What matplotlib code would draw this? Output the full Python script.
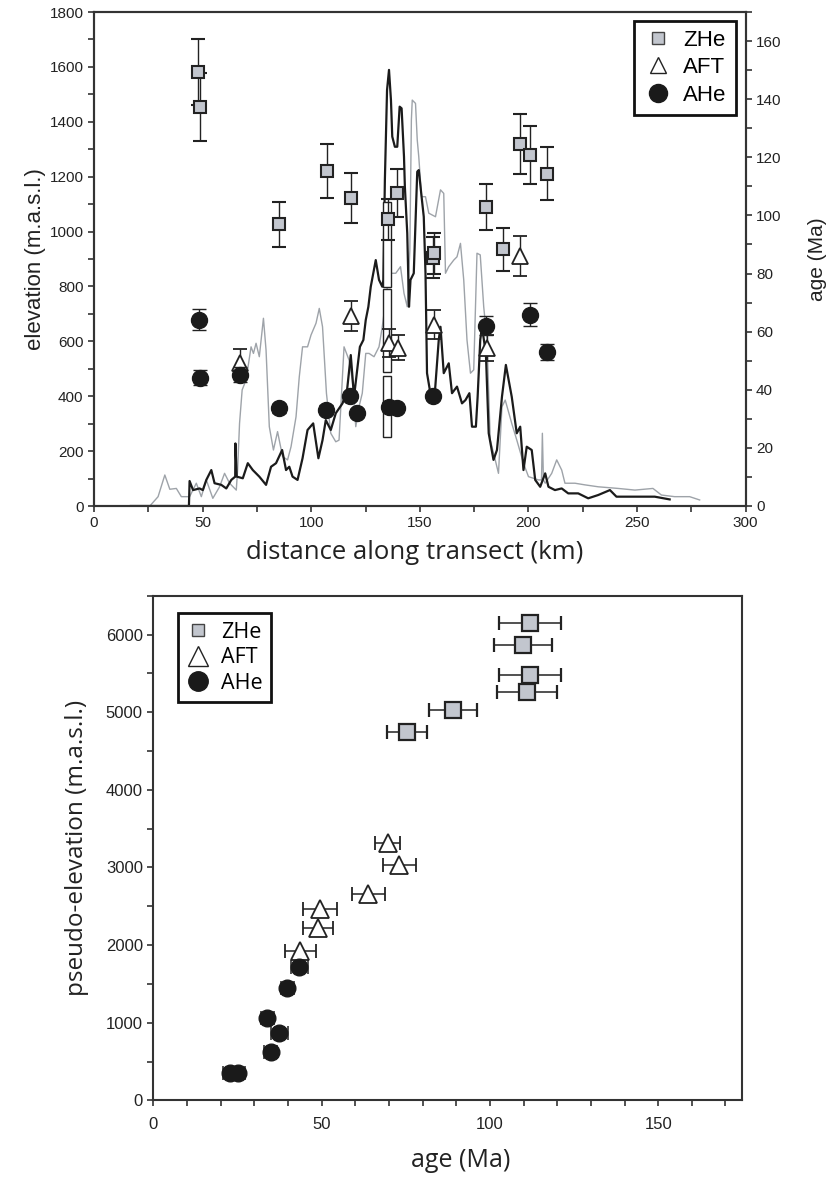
import matplotlib
matplotlib.use("Agg")
import matplotlib.pyplot as plt
import numpy as np
from matplotlib.ticker import MultipleLocator
from matplotlib.lines import Line2D

# ---------------- data: top panel ----------------
# topographic profiles (distance km, elevation m)
black_km = [17.0, 43.7, 44.0, 45.6, 48.6, 50.1, 51.7, 54.0, 55.5, 58.6, 60.9, 63.2, 65.0, 65.1, 65.7,
            68.5, 70.8, 73.1, 76.1, 79.2, 81.5, 83.8, 86.6, 88.4, 89.9, 91.4, 93.7, 96.0, 98.3,
            100.9, 103.3, 105.2, 106.7, 109.0, 111.3, 114.4, 116.5, 118.2, 119.7, 122.4, 124.0,
            125.1, 126.3, 127.4, 129.7, 131.2, 132.7, 133.2, 133.9, 134.9, 135.8, 136.7, 137.3,
            138.5, 139.6, 140.7, 141.6, 142.7, 143.1, 144.2, 145.0, 145.7, 147.2, 148.8, 149.5,
            150.8, 151.8, 152.6, 153.3, 155.0, 156.9, 158.7, 159.5, 161.0, 163.3, 164.8, 167.1,
            169.4, 171.0, 172.8, 174.0, 175.8, 176.6, 177.8, 178.6, 180.4, 181.7, 183.9, 185.5,
            187.8, 189.6, 192.3, 194.6, 196.2, 197.7, 199.2, 201.5, 203.1, 205.4, 207.7, 209.2,
            212.2, 215.3, 218.3, 222.9, 227.5, 232.1, 237.5, 240.5, 248.9, 258.1, 265.0]
black_m = [0, 0, 91, 58, 64, 58, 95, 131, 83, 77, 64, 95, 107, 228, 107,
           101, 156, 131, 107, 77, 143, 156, 204, 131, 143, 107, 95, 174, 277,
           301, 174, 240, 313, 277, 338, 374, 423, 550, 398, 580, 605,
           678, 726, 799, 896, 824, 799, 824, 1188, 1516, 1589, 1479, 1346,
           1309, 1309, 1455, 1449, 1273, 1164, 994, 726, 824, 848, 1218, 1224,
           1127, 1054, 848, 484, 404, 412, 605, 653, 484, 520, 411, 435,
           374, 386, 411, 289, 289, 398, 605, 653, 556, 265, 168, 204,
           398, 514, 398, 265, 289, 131, 216, 204, 95, 70, 119, 70,
           58, 64, 46, 46, 28, 40, 58, 34, 34, 34, 24]

gray_km = [25.7, 29.5, 32.6, 34.9, 37.9, 40.2, 44.0, 47.1, 49.4, 51.7, 54.7, 57.8, 60.1, 62.4,
           65.5, 66.1, 67.0, 68.2, 70.0, 72.3, 73.4, 74.6, 76.1, 78.0, 79.2, 80.7, 82.6, 84.5,
           86.8, 89.1, 90.7, 93.0, 94.5, 96.0, 98.3, 99.9, 102.2, 103.7, 105.2, 107.0, 109.0,
           111.3, 112.8, 115.1, 117.4, 118.9, 120.5, 122.0, 123.5, 125.1, 126.6, 128.9, 131.2,
           132.7, 134.3, 135.8, 138.9, 141.1, 142.7, 144.2, 145.4, 146.1, 146.5, 148.0, 148.8,
           149.5, 150.8, 152.6, 154.1, 157.2, 159.5, 161.0, 161.8, 163.3, 165.6, 167.1, 168.7,
           170.2, 171.7, 173.3, 174.8, 176.3, 177.8, 179.4, 180.9, 182.4, 184.7, 186.2, 187.8,
           189.3, 192.3, 194.6, 197.7, 200.0, 204.6, 206.0, 206.4, 206.9, 207.7, 210.7, 213.0,
           215.3, 216.8, 221.4, 226.0, 232.1, 241.3, 249.0, 257.3, 261.2, 267.3, 274.2, 278.8]
gray_m = [0, 34, 113, 61, 64, 34, 34, 83, 34, 95, 28, 70, 119, 83,
          58, 131, 301, 423, 459, 580, 556, 593, 544, 684, 568, 289, 204, 271,
          180, 168, 216, 325, 471, 580, 580, 623, 666, 720, 653, 411, 265,
          234, 240, 580, 532, 459, 289, 362, 411, 556, 556, 544, 580,
          653, 751, 848, 848, 872, 775, 726, 933, 1407, 1479, 1467, 1334,
          1273, 1127, 1127, 1067, 1054, 1152, 1139, 848, 872, 896, 908, 957,
          824, 605, 484, 496, 921, 915, 726, 605, 241, 168, 119, 362,
          386, 301, 241, 156, 107, 95, 95, 265, 95, 83, 119, 168,
          131, 83, 83, 77, 70, 64, 58, 64, 40, 34, 34, 22]

# open sample-elevation boxes near 135 km (bottom / top elevation, m)
box_km = [135.0, 135.0, 135.0]
box_bottom = [253, 487, 799]
box_top = [474, 790, 1109]

# thermochronology ages along the transect (km, Ma, 1-sigma Ma)
zhe_km = [47.8, 48.6, 85.3, 107.2, 118.2, 135.5, 139.3, 155.9, 156.6, 180.6, 188.2, 195.9, 200.5, 208.7]
zhe_age = [149.3, 137.3, 96.9, 115.3, 106.1, 98.6, 107.8, 85.5, 86.9, 102.9, 88.3, 124.5, 120.7, 114.4]
zhe_err = [11.4, 11.7, 7.8, 9.2, 8.6, 7.2, 8.2, 6.9, 6.9, 8.0, 7.3, 10.3, 10.0, 9.1]

aft_km = [67.0, 118.5, 135.8, 140.0, 156.4, 180.9, 196.2]
aft_age = [49.2, 65.3, 56.1, 54.4, 62.4, 54.4, 86.0]
aft_err = [5.0, 5.1, 4.9, 4.3, 4.9, 4.5, 6.9]

ahe_km = [48.2, 48.6, 67.0, 85.3, 107.0, 117.9, 121.0, 135.8, 139.6, 156.1, 180.4, 200.5, 208.7]
ahe_age = [64.1, 44.2, 45.2, 33.6, 33.1, 37.9, 32.0, 34.2, 33.7, 37.9, 62.1, 65.9, 53.0]
ahe_err = [3.7, 2.6, 2.6, 1.5, 1.5, 1.5, 1.5, 1.5, 1.5, 1.5, 3.4, 3.8, 2.9]

# ---------------- data: bottom panel (age Ma, pseudo-elevation m) ----------------
zhe2_age = [111.9, 109.9, 111.9, 110.9, 89.1, 75.3]
zhe2_elev = [6142, 5862, 5476, 5261, 5026, 4739]
zhe2_err = [9.2, 8.7, 9.2, 8.9, 7.2, 6.0]

aft2_age = [69.6, 73.1, 63.9, 49.5, 49.0, 43.6]
aft2_elev = [3310, 3030, 2653, 2460, 2223, 1927]
aft2_err = [3.7, 5.0, 4.8, 5.0, 4.5, 4.6]

ahe2_age = [43.4, 39.8, 33.9, 37.4, 34.9, 22.8, 25.2]
ahe2_elev = [1721, 1443, 1065, 872, 627, 349, 349]
ahe2_err = [2.5, 2.0, 2.0, 2.5, 2.0, 2.0, 2.0]

legend_labels = ["ZHe", "AFT", "AHe"]

# ---------------- styling ----------------
HELV = ["Liberation Sans", "DejaVu Sans"]
MYR = ["Open Sans", "DejaVu Sans"]
SQ_FACE = "#c2c6ce"
EDGE = "#222222"
SPINE = "#333333"
TXT = "#222222"

fig = plt.figure(figsize=(8.33, 11.77), dpi=100)

# ===== top panel =====
ax = fig.add_axes([94 / 833, 1 - 506 / 1177, 651.7 / 833, 494 / 1177])
ax.plot(gray_km, gray_m, color="#9ea3a9", lw=1.0, zorder=2)
ax.plot(black_km, black_m, color="#1b1b1b", lw=1.6, zorder=3)
ax.bar(box_km, np.array(box_top) - np.array(box_bottom), bottom=box_bottom, width=3.7,
       color="white", edgecolor=EDGE, lw=1.0, zorder=4)
ax.set_xlim(0, 300)
ax.set_ylim(0, 1800)
ax.xaxis.set_major_locator(MultipleLocator(50))
ax.xaxis.set_minor_locator(MultipleLocator(25))
ax.yaxis.set_major_locator(MultipleLocator(200))
ax.yaxis.set_minor_locator(MultipleLocator(100))

ax2 = ax.twinx()
ax2.set_ylim(0, 170)
ax2.yaxis.set_major_locator(MultipleLocator(20))
ax2.yaxis.set_minor_locator(MultipleLocator(10))

ekw = dict(ecolor="#222222", elinewidth=1.0, capthick=1.0, linestyle="none")
ax2.errorbar(zhe_km, zhe_age, yerr=zhe_err, fmt="s", ms=9, mfc=SQ_FACE, mec=EDGE, mew=1.5,
             capsize=5, zorder=5, **ekw)
ax2.errorbar(aft_km, aft_age, yerr=aft_err, fmt="^", ms=12, mfc="white", mec=EDGE, mew=1.3,
             capsize=5, zorder=6, **ekw)
ax2.errorbar(ahe_km, ahe_age, yerr=ahe_err, fmt="o", ms=11.5, mfc="#1a1a1a", mec="#1a1a1a",
             capsize=5, zorder=7, **ekw)

for a in (ax, ax2):
    for s in a.spines.values():
        s.set_linewidth(1.5)
        s.set_color(SPINE)
    a.tick_params(which="both", direction="out", color=SPINE, width=1.2, labelsize=11,
                  labelcolor=TXT, length=4)
ax.tick_params(axis="x", pad=3)
for lab in ax.get_xticklabels() + ax.get_yticklabels() + ax2.get_yticklabels():
    lab.set_family(HELV)

ax.set_ylabel("elevation (m.a.s.l.)", fontsize=16, family=HELV, color=TXT)
ax.yaxis.set_label_coords(-0.074, 0.5)
ax2.set_ylabel("age (Ma)", fontsize=15, family=HELV, color=TXT)
ax2.yaxis.set_label_coords(1.096, 0.5)
ax.set_xlabel("distance along transect (km)", fontsize=18.5, family=MYR, color=TXT)
ax.xaxis.set_label_coords(0.4926, -0.068)

handles = [
    Line2D([], [], marker="s", ls="none", ms=8, mfc=SQ_FACE, mec="#444444", mew=1.0),
    Line2D([], [], marker="^", ls="none", ms=12, mfc="white", mec=EDGE, mew=1.0),
    Line2D([], [], marker="o", ls="none", ms=13, mfc="#1a1a1a", mec="#1a1a1a"),
]
leg = ax2.legend(handles, legend_labels, loc="upper right", bbox_to_anchor=(0.9845, 0.9825),
                 frameon=True, fancybox=False, edgecolor="#111111", framealpha=1,
                 prop=dict(family=HELV, size=16), handlelength=1.35, handletextpad=0.45,
                 labelspacing=0.3, borderpad=0.4, borderaxespad=0)
leg.get_frame().set_linewidth(2.0)

# ===== bottom panel =====
bx = fig.add_axes([153.3 / 833, 1 - 1100.4 / 1177, 589 / 833, 504.7 / 1177])
hkw = dict(ecolor="#222222", elinewidth=1.1, capthick=1.1, linestyle="none")
bx.errorbar(zhe2_age, zhe2_elev, xerr=zhe2_err, fmt="s", ms=11, mfc=SQ_FACE, mec=EDGE, mew=1.6,
            capsize=5, zorder=5, **hkw)
bx.errorbar(aft2_age, aft2_elev, xerr=aft2_err, fmt="^", ms=13, mfc="white", mec=EDGE, mew=1.3,
            capsize=5, zorder=6, **hkw)
bx.errorbar(ahe2_age, ahe2_elev, xerr=ahe2_err, fmt="o", ms=12, mfc="#1a1a1a", mec="#1a1a1a",
            capsize=5, zorder=7, **hkw)
bx.set_xlim(0, 175)
bx.set_ylim(0, 6500)
bx.xaxis.set_major_locator(MultipleLocator(50))
bx.xaxis.set_minor_locator(MultipleLocator(10))
bx.yaxis.set_major_locator(MultipleLocator(1000))
bx.yaxis.set_minor_locator(MultipleLocator(500))
for s in bx.spines.values():
    s.set_linewidth(1.5)
    s.set_color(SPINE)
bx.tick_params(which="both", direction="out", color=SPINE, width=1.2, length=4, labelsize=12,
               labelcolor=TXT)
bx.tick_params(axis="x", pad=8)
for lab in bx.get_xticklabels() + bx.get_yticklabels():
    lab.set_family(HELV)
bx.set_xlabel("age (Ma)", fontsize=18, family=MYR, color=TXT)
bx.xaxis.set_label_coords(0.522, -0.094)
bx.set_ylabel("pseudo-elevation (m.a.s.l.)", fontsize=17.5, family=MYR, color=TXT)
bx.yaxis.set_label_coords(-0.11, 0.5)

handles2 = [
    Line2D([], [], marker="s", ls="none", ms=9, mfc=SQ_FACE, mec="#444444", mew=1.0),
    Line2D([], [], marker="^", ls="none", ms=14, mfc="white", mec=EDGE, mew=1.0),
    Line2D([], [], marker="o", ls="none", ms=14, mfc="#1a1a1a", mec="#1a1a1a"),
]
leg2 = bx.legend(handles2, legend_labels, loc="upper left", bbox_to_anchor=(0.042, 0.965),
                 frameon=True, fancybox=False, edgecolor="#111111", framealpha=1,
                 prop=dict(family=MYR, size=15.5), handlelength=1.1, handletextpad=0.5,
                 labelspacing=0.2, borderpad=0.4, borderaxespad=0)
leg2.get_frame().set_linewidth(2.0)

fig.savefig("out.png", dpi=100)
